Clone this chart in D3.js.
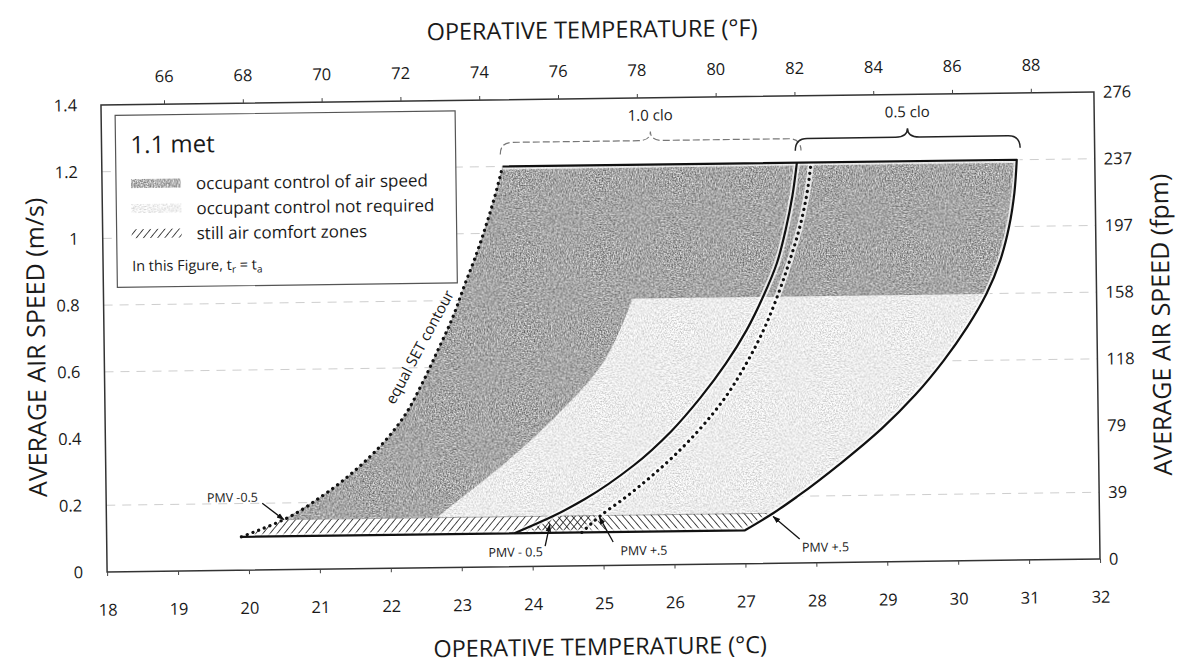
<!DOCTYPE html>
<html>
<head>
<meta charset="utf-8">
<script src="https://cdn.jsdelivr.net/npm/d3@7"></script>
<style>
  body { margin: 0; background: #fff; }
  svg text { font-family: "Open Sans", "Noto Sans", sans-serif; fill: #1a1a1a; }
</style>
</head>
<body>
<svg id="chart" width="1190" height="668"></svg>
<script>
// ---- data (°C, m/s) ----
const tempTicksC = [18, 19, 20, 21, 22, 23, 24, 25, 26, 27, 28, 29, 30, 31, 32];
const tempTicksF = [66, 68, 70, 72, 74, 76, 78, 80, 82, 84, 86, 88];
const speedTicks = [0, 0.2, 0.4, 0.6, 0.8, 1.0, 1.2, 1.4];
const fpmTicks = [0, 39, 79, 118, 158, 197, 237, 276];
const gridSpeeds = [0.2, 0.6, 0.8, 1.0, 1.2];

// 1.0 clo cool edge, the equal SET contour (dotted)
const setContour = [[19.9, 0.1], [20.5, 0.15], [21.05, 0.22], [21.7, 0.33], [22.2, 0.45], [22.47, 0.55],
  [22.7, 0.65], [22.92, 0.75], [23.1, 0.85], [23.25, 0.93], [23.4, 1.02], [23.52, 1.1], [23.65, 1.2]];
// 1.0 clo warm edge (dotted)
const clo10Warm = [[24.7, 0.1], [24.97, 0.15], [25.3, 0.2], [25.88, 0.3], [26.36, 0.4], [26.75, 0.5],
  [27.05, 0.6], [27.3, 0.7], [27.5, 0.8], [27.67, 0.9], [27.82, 1.0], [27.93, 1.1], [28.0, 1.2]];
// 0.5 clo cool edge (solid)
const clo05Cool = [[23.75, 0.1], [24.3, 0.15], [24.75, 0.2], [25.45, 0.3], [25.98, 0.4], [26.4, 0.5],
  [26.76, 0.6], [27.06, 0.7], [27.3, 0.8], [27.5, 0.9], [27.63, 1.0], [27.73, 1.1], [27.8, 1.2]];
// 0.5 clo warm edge (solid, outer)
const clo05Warm = [[27.0, 0.1], [27.4, 0.15], [27.75, 0.2], [28.38, 0.3], [28.95, 0.4], [29.43, 0.5],
  [29.83, 0.6], [30.17, 0.7], [30.45, 0.8], [30.65, 0.9], [30.78, 1.0], [30.86, 1.1], [30.9, 1.2]];
// left edge of the "occupant control not required" area
const noControlEdge = [[22.65, 0.15], [22.95, 0.2], [23.5, 0.29], [24.0, 0.38], [24.4, 0.46],
  [25.0, 0.6], [25.3, 0.72], [25.45, 0.8]];
const stillAir = [0.1, 0.15];
const noControlTop = 0.8;
const topSpeed = 1.2;

const braces = [
  { label: '1.0 clo', from: 23.62, to: 27.86, faint: true },
  { label: '0.5 clo', from: 27.78, to: 30.95, faint: false }
];
const pmvNotes = [
  { text: 'PMV -0.5', at: [19.42, 0.205], from: [20.2, 0.2], tip: [20.5, 0.15] },
  { text: 'PMV - 0.5', at: [23.38, 0.03], from: [24.18, 0.06], tip: [24.25, 0.125] },
  { text: 'PMV +.5', at: [25.24, 0.03], from: [25.14, 0.07], tip: [24.95, 0.145] },
  { text: 'PMV +.5', at: [27.8, 0.033], from: [27.77, 0.072], tip: [27.4, 0.14] }
];
const legendItems = ['occupant control of air speed', 'occupant control not required', 'still air comfort zones'];

// ---- layout ----
const svg = d3.select('#chart');
const plotL = 104, plotR = 1097, plotT = 98.5, plotB = 565.5;
const x = d3.scaleLinear().domain([18, 32]).range([plotL, plotR]);
const xF = d3.scaleLinear().domain([18 * 1.8 + 32, 32 * 1.8 + 32]).range([plotL, plotR]);
const y = d3.scaleLinear().domain([0, 1.4]).range([plotB, plotT]);

// the scanned figure is slightly tilted
const g = svg.append('g').attr('transform', 'rotate(-0.75, 601, 332)');

const defs = svg.append('defs');
function grain(id, amount, seed) {
  const f = defs.append('filter').attr('id', id).attr('x', 0).attr('y', 0).attr('width', 1).attr('height', 1)
    .attr('color-interpolation-filters', 'sRGB');
  f.append('feTurbulence').attr('type', 'fractalNoise').attr('baseFrequency', 0.7).attr('numOctaves', 2)
    .attr('seed', seed).attr('result', 'noise');
  f.append('feColorMatrix').attr('in', 'noise').attr('type', 'matrix')
    .attr('values', '1 0 0 0 0  1 0 0 0 0  1 0 0 0 0  0 0 0 0 1').attr('result', 'mono');
  f.append('feComposite').attr('in', 'SourceGraphic').attr('in2', 'mono').attr('operator', 'arithmetic')
    .attr('k1', 0).attr('k2', 1).attr('k3', amount).attr('k4', -amount / 2).attr('result', 'mix');
  f.append('feComposite').attr('in', 'mix').attr('in2', 'SourceAlpha').attr('operator', 'in');
}
grain('grainDark', 0.9, 3);
grain('grainLight', 0.55, 7);

function hatch(id, angle) {
  const p = defs.append('pattern').attr('id', id).attr('patternUnits', 'userSpaceOnUse')
    .attr('width', 5.5).attr('height', 5.5).attr('patternTransform', `rotate(${angle})`);
  p.append('line').attr('x1', 0).attr('y1', 0).attr('x2', 0).attr('y2', 5.5)
    .attr('stroke', '#111').attr('stroke-width', 1.5);
}
hatch('hatchR', 40);
hatch('hatchL', -40);

defs.append('marker').attr('id', 'arrow').attr('viewBox', '0 0 10 10').attr('refX', 9).attr('refY', 5)
  .attr('markerWidth', 6).attr('markerHeight', 6).attr('orient', 'auto')
  .append('path').attr('d', 'M0,1.5 L10,5 L0,8.5 Z').attr('fill', '#111');

const line = d3.line().x(d => x(d[0])).y(d => y(d[1])).curve(d3.curveMonotoneY);
const pt = d => `${x(d[0])},${y(d[1])}`;

// ---- gridlines ----
g.append('g').selectAll('line').data(gridSpeeds).join('line')
  .attr('x1', plotL).attr('x2', plotR).attr('y1', d => y(d)).attr('y2', d => y(d))
  .attr('stroke', '#a8a8a8').attr('stroke-width', 0.8).attr('stroke-dasharray', '9,7').attr('opacity', 0.7);

// ---- comfort zone fills ----
const upper = v => v >= stillAir[1];
const zonePath = line(setContour.filter(d => upper(d[1]))) + 'L' +
  line(clo05Warm.filter(d => upper(d[1])).reverse()).slice(1) + 'Z';
defs.append('clipPath').attr('id', 'zoneClip').append('path').attr('d', zonePath);

g.append('path').attr('d', zonePath).attr('fill', '#a6a6a6').attr('filter', 'url(#grainDark)');

const lightPath = line(noControlEdge) + `L${x(32)},${y(noControlTop)}L${x(32)},${y(stillAir[1])}Z`;
g.append('g').attr('clip-path', 'url(#zoneClip)')
  .append('path').attr('d', lightPath).attr('fill', '#ececec').attr('filter', 'url(#grainLight)');

// still air bands
const hatch10 = [setContour[0], setContour[1], clo10Warm[1], clo10Warm[0]];
const hatch05 = [clo05Cool[0], clo05Cool[1], clo05Warm[1], clo05Warm[0]];
g.append('path').attr('d', 'M' + hatch10.map(pt).join('L') + 'Z').attr('fill', 'url(#hatchR)');
g.append('path').attr('d', 'M' + hatch05.map(pt).join('L') + 'Z').attr('fill', 'url(#hatchL)');

// ---- boundary lines ----
const outline = 'M' + pt(setContour[0]) + 'L' + line(clo05Warm).slice(1) + 'L' + pt(setContour[setContour.length - 1]);
const halo = [line(clo10Warm), line(clo05Cool), outline];
g.append('g').selectAll('path').data(halo).join('path').attr('d', d => d)
  .attr('fill', 'none').attr('stroke', '#fff').attr('stroke-width', 6).attr('opacity', 0.75);

g.append('path').attr('d', line(clo05Cool)).attr('fill', 'none').attr('stroke', '#111').attr('stroke-width', 2.2);
g.append('path').attr('d', outline).attr('fill', 'none').attr('stroke', '#111').attr('stroke-width', 2.2)
  .attr('stroke-linejoin', 'round');
[setContour, clo10Warm].forEach(s => {
  g.append('path').attr('d', line(s)).attr('fill', 'none').attr('stroke', '#111')
    .attr('stroke-width', 3.2).attr('stroke-linecap', 'round').attr('stroke-dasharray', '0.1,6');
});

// equal SET contour label, sits just left of the dotted curve
const setLabel = [22.55, 0.65];
g.append('text').attr('transform', `translate(${x(setLabel[0])},${y(setLabel[1])}) rotate(-61)`)
  .attr('text-anchor', 'middle').attr('font-size', 15).attr('dy', -3).text('equal SET contour');

// ---- clo braces ----
braces.forEach(b => {
  const x0 = x(b.from), x1 = x(b.to), xm = (x0 + x1) / 2, yb = y(topSpeed) - 24;
  const d = `M${x0},${yb + 12} Q${x0},${yb} ${x0 + 12},${yb} L${xm - 12},${yb} Q${xm},${yb} ${xm},${yb - 9}` +
    ` Q${xm},${yb} ${xm + 12},${yb} L${x1 - 12},${yb} Q${x1},${yb} ${x1},${yb + 12}`;
  g.append('path').attr('d', d).attr('fill', 'none')
    .attr('stroke', b.faint ? '#777' : '#222').attr('stroke-width', b.faint ? 1.2 : 1.5)
    .attr('stroke-dasharray', b.faint ? '7,3' : null);
  g.append('text').attr('x', xm).attr('y', yb - 20).attr('text-anchor', 'middle').attr('font-size', 15).text(b.label);
});

// ---- PMV notes ----
pmvNotes.forEach(n => {
  g.append('line').attr('x1', x(n.from[0])).attr('y1', y(n.from[1])).attr('x2', x(n.tip[0])).attr('y2', y(n.tip[1]))
    .attr('stroke', '#111').attr('stroke-width', 1.3).attr('marker-end', 'url(#arrow)');
  g.append('text').attr('x', x(n.at[0])).attr('y', y(n.at[1])).attr('font-size', 12.5).text(n.text);
});

// ---- legend ----
const lg = g.append('g').attr('transform', 'translate(118,109)');
lg.append('rect').attr('width', 340).attr('height', 172).attr('fill', '#fff')
  .attr('stroke', '#555').attr('stroke-width', 1.2);
lg.append('text').attr('x', 15).attr('y', 38).attr('font-size', 24).text('1.1 met');
const swatchFills = ['#b4b4b4', '#f3f3f3', 'url(#hatchR)'];
const swatchFilters = ['url(#grainDark)', 'url(#grainLight)', null];
legendItems.forEach((t, i) => {
  const yy = 75 + i * 25;
  lg.append('rect').attr('x', 15).attr('y', yy - 11).attr('width', 50).attr('height', 9)
    .attr('fill', swatchFills[i]).attr('filter', swatchFilters[i]);
  lg.append('text').attr('x', 80).attr('y', yy).attr('font-size', 17).text(t);
});
const note = lg.append('text').attr('x', 15).attr('y', 156).attr('font-size', 14.5);
note.append('tspan').text('In this Figure, t');
note.append('tspan').attr('font-size', 10).attr('dy', 3).text('r');
note.append('tspan').attr('dy', -3).text(' = t');
note.append('tspan').attr('font-size', 10).attr('dy', 3).text('a');

// ---- frame and axes ----
g.append('rect').attr('x', plotL).attr('y', plotT).attr('width', plotR - plotL).attr('height', plotB - plotT)
  .attr('fill', 'none').attr('stroke', '#333').attr('stroke-width', 1.5);

function styleAxis(sel) {
  sel.select('.domain').remove();
  sel.attr('font-family', null).attr('font-size', 16.5);
  sel.selectAll('line').attr('stroke', '#444');
  sel.selectAll('text').attr('fill', '#1a1a1a');
}
g.append('g').attr('transform', `translate(0,${plotB})`)
  .call(d3.axisBottom(x).tickValues(tempTicksC).tickSize(4).tickPadding(28)).call(styleAxis);
g.append('g').attr('transform', `translate(0,${plotT})`)
  .call(d3.axisTop(xF).tickValues(tempTicksF).tickSize(4).tickPadding(18)).call(styleAxis);
g.append('g').attr('transform', `translate(${plotL},0)`)
  .call(d3.axisLeft(y).tickValues(speedTicks).tickSize(0).tickPadding(24).tickFormat(d => String(+d.toFixed(1))))
  .call(styleAxis);
g.append('g').attr('transform', `translate(${plotR},0)`)
  .call(d3.axisRight(y).tickValues(speedTicks).tickSize(0).tickPadding(9).tickFormat((d, i) => fpmTicks[i]))
  .call(styleAxis);

// axis titles
g.append('text').attr('x', 596).attr('y', 38).attr('text-anchor', 'middle').attr('font-size', 23.5)
  .text('OPERATIVE TEMPERATURE (°F)');
g.append('text').attr('x', 596).attr('y', 655).attr('text-anchor', 'middle').attr('font-size', 23.5)
  .text('OPERATIVE TEMPERATURE (°C)');
g.append('text').attr('transform', 'translate(45,340) rotate(-90)').attr('text-anchor', 'middle')
  .attr('font-size', 25).text('AVERAGE AIR SPEED (m/s)');
g.append('text').attr('transform', 'translate(1170,332) rotate(-90)').attr('text-anchor', 'middle')
  .attr('font-size', 25).text('AVERAGE AIR SPEED (fpm)');
</script>
</body>
</html>
